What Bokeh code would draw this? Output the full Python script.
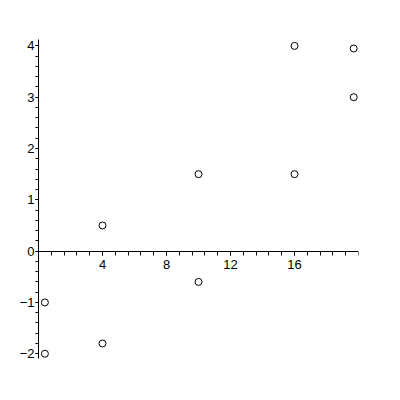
import numpy as np
from bokeh.plotting import figure
from bokeh.models import Range1d, FixedTicker
from bokeh.embed import file_html
from bokeh.resources import INLINE

# data
x_vals = [0.4, 0.4, 4, 4, 10, 10, 16, 16, 19.7, 19.7]
y_vals = [-1, -2, 0.5, -1.8, 1.5, -0.6, 4, 1.5, 3.95, 3]
x_tick_labels = [4, 8, 12, 16]
y_tick_labels = [-2, -1, 0, 1, 2, 3, 4]

p = figure(width=392, height=392, output_backend="svg", toolbar_location=None,
           x_range=Range1d(0, 20), y_range=Range1d(-2.093, 4.125),
           min_border_left=38, min_border_right=34,
           min_border_top=39, min_border_bottom=34)
p.outline_line_color = None
p.xgrid.visible = False
p.ygrid.visible = False
p.background_fill_color = "white"
p.border_fill_color = "white"

p.xaxis.fixed_location = 0
p.xaxis.ticker = FixedTicker(ticks=x_tick_labels,
                             minor_ticks=list(np.round(np.arange(0, 20.01, 0.8), 3)))
p.yaxis.ticker = FixedTicker(ticks=y_tick_labels,
                             minor_ticks=list(np.round(np.arange(-2, 4.01, 0.2), 3)))

for ax in (p.xaxis, p.yaxis):
    ax.axis_line_color = "black"
    ax.axis_line_width = 1
    ax.major_tick_line_color = "black"
    ax.minor_tick_line_color = "black"
    ax.major_tick_in = 0
    ax.minor_tick_in = 0
    ax.major_label_text_color = "black"
    ax.major_label_text_font = "Liberation Sans"
    ax.major_label_text_font_size = "13px"

p.xaxis.major_tick_out = 4
p.xaxis.minor_tick_out = 4
p.xaxis.major_label_standoff = 5
p.yaxis.major_tick_out = 3
p.yaxis.minor_tick_out = 3
p.yaxis.major_label_standoff = 1

p.scatter(x_vals, y_vals, marker="circle", size=7, fill_color=None,
          line_color="black", line_width=1)

open("out.html", "w").write(file_html(p, INLINE))
